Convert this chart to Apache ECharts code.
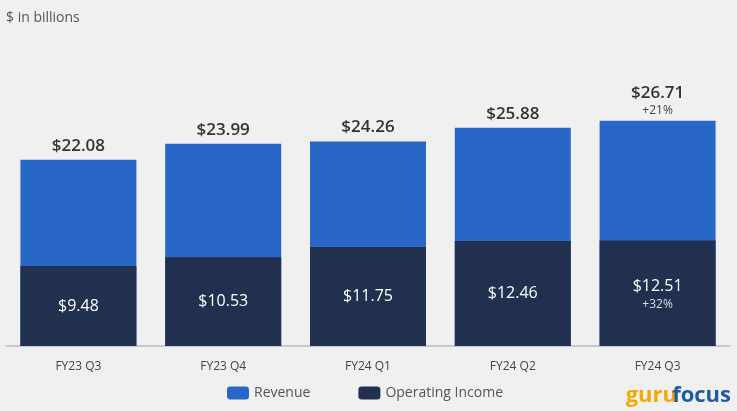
<!DOCTYPE html>
<html>
<head>
<meta charset="utf-8">
<script src="https://cdn.jsdelivr.net/npm/echarts@6/dist/echarts.min.js"></script>
<style>
html, body { margin: 0; padding: 0; background: #f0f0f0; }
#main { width: 737px; height: 411px; }
</style>
</head>
<body>
<div id="main"></div>
<script>
var categories = ['FY23 Q3', 'FY23 Q4', 'FY24 Q1', 'FY24 Q2', 'FY24 Q3'];
var revenue = [22.08, 23.99, 24.26, 25.88, 26.71];
var opIncome = [9.48, 10.53, 11.75, 12.46, 12.51];
var revenueGrowth = ['', '', '', '', '+21%'];
var opGrowth = ['', '', '', '', '+32%'];

var font = 'Open Sans';
var chart = echarts.init(document.getElementById('main'));

var option = {
	backgroundColor: '#f0f0f0',
	animation: false,
	textStyle: { fontFamily: font },
	grid: { left: 6, right: 7, top: 93, bottom: 65 },
	graphic: [
		{ type: 'text', left: 6, top: 11, style: { text: '$ in billions', fill: '#555', font: '14px "Open Sans"' } },
		{ type: 'text', right: 60, bottom: 4, style: { text: 'guru', fill: '#f5a800', font: 'bold 22px "Open Sans"' } },
		{ type: 'text', right: 6, bottom: 4, style: { text: 'focus', fill: '#1d5aa8', font: 'bold 22px "Open Sans"' } }
	],
	legend: {
		bottom: 6,
		left: 222,
		itemWidth: 22,
		itemHeight: 13,
		itemGap: 48,
		textStyle: { color: '#555', fontSize: 14, fontFamily: font },
		data: ['Revenue', 'Operating Income']
	},
	xAxis: {
		type: 'category',
		data: categories,
		axisTick: { show: false },
		axisLine: { lineStyle: { color: '#bbb', width: 1.5 } },
		axisLabel: { color: '#444', fontSize: 12, margin: 15 }
	},
	yAxis: {
		type: 'value',
		min: 0,
		max: 30,
		show: false
	},
	series: [{
		name: 'Revenue',
		type: 'bar',
		barWidth: 116,
		barGap: '-100%',
		itemStyle: { color: '#2867c8' },
		data: revenue,
		label: {
			show: true,
			position: 'top',
			distance: 3,
			formatter: function (p) {
				var g = revenueGrowth[p.dataIndex];
				return '{v|$' + p.value.toFixed(2) + '}' + (g ? '\n{p|' + g + '}' : '');
			},
			rich: {
				v: { fontSize: 17, fontWeight: 600, color: '#333', fontFamily: font, lineHeight: 22 },
				p: { fontSize: 12, color: '#444', fontFamily: font, lineHeight: 14 }
			}
		}
	}, {
		name: 'Operating Income',
		type: 'bar',
		barWidth: 116,
		itemStyle: { color: '#22304f' },
		data: opIncome,
		label: {
			show: true,
			position: 'inside',
			formatter: function (p) {
				var g = opGrowth[p.dataIndex];
				return '{v|$' + p.value.toFixed(2) + '}' + (g ? '\n{p|' + g + '}' : '');
			},
			rich: {
				v: { fontSize: 16, color: '#fff', fontFamily: font, lineHeight: 22 },
				p: { fontSize: 12, color: '#ddd', fontFamily: font, lineHeight: 14 }
			}
		}
	}]
};

chart.setOption(option);
</script>
</body>
</html>
